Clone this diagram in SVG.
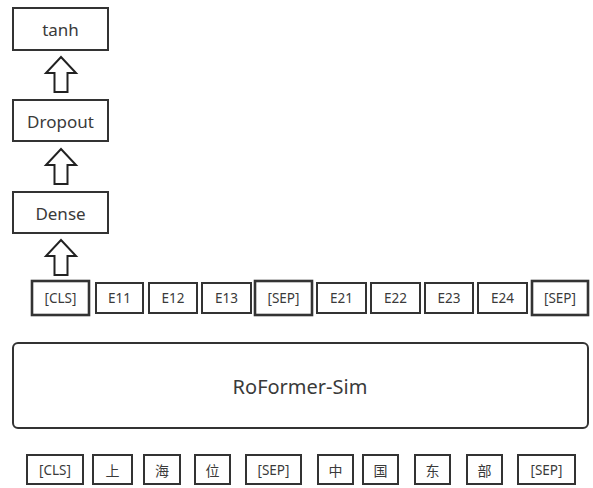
<svg xmlns="http://www.w3.org/2000/svg" width="593" height="488" viewBox="0 0 593 488">
  <defs>
    <style>
      .box { fill: #ffffff; stroke: #333333; stroke-width: 2; }
      .tok { fill: #ffffff; stroke: #333333; stroke-width: 2; }
      .sep { fill: #ffffff; stroke: #333333; stroke-width: 2.6; }
      .lbl { font-family: "Noto Sans", "Noto Sans CJK SC", sans-serif; fill: #3a3a3a; text-anchor: middle; dominant-baseline: central; }
      .big { font-size: 17px; }
      .small { font-size: 13.5px; }
      .cjk { font-family: "Noto Sans CJK SC", sans-serif; font-size: 14px; }
      .arrow { fill: #ffffff; stroke: #222222; stroke-width: 2; stroke-linejoin: miter; }
    </style>
    <!-- hollow up arrow, drawn around its own origin (tip at 0,0) -->
    <path id="up" class="arrow" d="M0,0 L15,16 L6.5,16 L6.5,35 L-6.5,35 L-6.5,16 L-15,16 Z"/>
  </defs>

  <!-- head layers -->
  <g id="tanh">
    <rect class="box" x="13" y="8" width="95" height="42"/>
    <text class="lbl big" x="60.5" y="29">tanh</text>
  </g>
  <g id="dropout">
    <rect class="box" x="13" y="100" width="95" height="41"/>
    <text class="lbl big" x="60.5" y="121">Dropout</text>
  </g>
  <g id="dense">
    <rect class="box" x="13" y="192" width="95" height="41"/>
    <text class="lbl big" x="60.5" y="213">Dense</text>
  </g>

  <!-- output token row -->
  <g id="out-cls"><rect class="sep" x="32" y="281" width="57" height="34"/><text class="lbl small" x="60.5" y="298">[CLS]</text></g>
  <g id="out-e11"><rect class="tok" x="96" y="283" width="47" height="30"/><text class="lbl small" x="119.5" y="298">E11</text></g>
  <g id="out-e12"><rect class="tok" x="149" y="283" width="48" height="30"/><text class="lbl small" x="173" y="298">E12</text></g>
  <g id="out-e13"><rect class="tok" x="202" y="283" width="49" height="30"/><text class="lbl small" x="226.5" y="298">E13</text></g>
  <g id="out-sep1"><rect class="sep" x="255" y="281" width="57" height="34"/><text class="lbl small" x="283.5" y="298">[SEP]</text></g>
  <g id="out-e21"><rect class="tok" x="317" y="283" width="49" height="30"/><text class="lbl small" x="341.5" y="298">E21</text></g>
  <g id="out-e22"><rect class="tok" x="371" y="283" width="49" height="30"/><text class="lbl small" x="395.5" y="298">E22</text></g>
  <g id="out-e23"><rect class="tok" x="425" y="283" width="48" height="30"/><text class="lbl small" x="449" y="298">E23</text></g>
  <g id="out-e24"><rect class="tok" x="478" y="283" width="49" height="30"/><text class="lbl small" x="502.5" y="298">E24</text></g>
  <g id="out-sep2"><rect class="sep" x="532" y="281" width="56" height="34"/><text class="lbl small" x="560" y="298">[SEP]</text></g>

  <!-- encoder -->
  <g id="roformer-sim">
    <rect class="box" x="13" y="343" width="575" height="85" rx="5" ry="5"/>
    <text class="lbl" x="300" y="386" font-size="20">RoFormer-Sim</text>
  </g>

  <!-- input token row -->
  <g id="in-cls"><rect class="tok" x="27" y="455" width="56" height="29"/><text class="lbl small" x="55" y="470">[CLS]</text></g>
  <g id="in-shang"><rect class="tok" x="93" y="455" width="39" height="29"/><text class="lbl cjk" x="112.5" y="470">上</text></g>
  <g id="in-hai"><rect class="tok" x="144" y="455" width="36" height="29"/><text class="lbl cjk" x="162" y="470">海</text></g>
  <g id="in-wei"><rect class="tok" x="195" y="455" width="35" height="29"/><text class="lbl cjk" x="212.5" y="470">位</text></g>
  <g id="in-sep1"><rect class="tok" x="246" y="455" width="55" height="29"/><text class="lbl small" x="273.5" y="470">[SEP]</text></g>
  <g id="in-zhong"><rect class="tok" x="318" y="455" width="35" height="29"/><text class="lbl cjk" x="335.5" y="470">中</text></g>
  <g id="in-guo"><rect class="tok" x="363" y="455" width="35" height="29"/><text class="lbl cjk" x="380.5" y="470">国</text></g>
  <g id="in-dong"><rect class="tok" x="415" y="455" width="35" height="29"/><text class="lbl cjk" x="432.5" y="470">东</text></g>
  <g id="in-bu"><rect class="tok" x="467" y="455" width="35" height="29"/><text class="lbl cjk" x="484.5" y="470">部</text></g>
  <g id="in-sep2"><rect class="tok" x="518" y="455" width="57" height="29"/><text class="lbl small" x="546.5" y="470">[SEP]</text></g>

  <!-- connectors -->
  <g id="connectors">
    <use href="#up" x="61" y="57"/>
    <use href="#up" x="61" y="149"/>
    <use href="#up" x="61" y="240"/>
  </g>
</svg>
